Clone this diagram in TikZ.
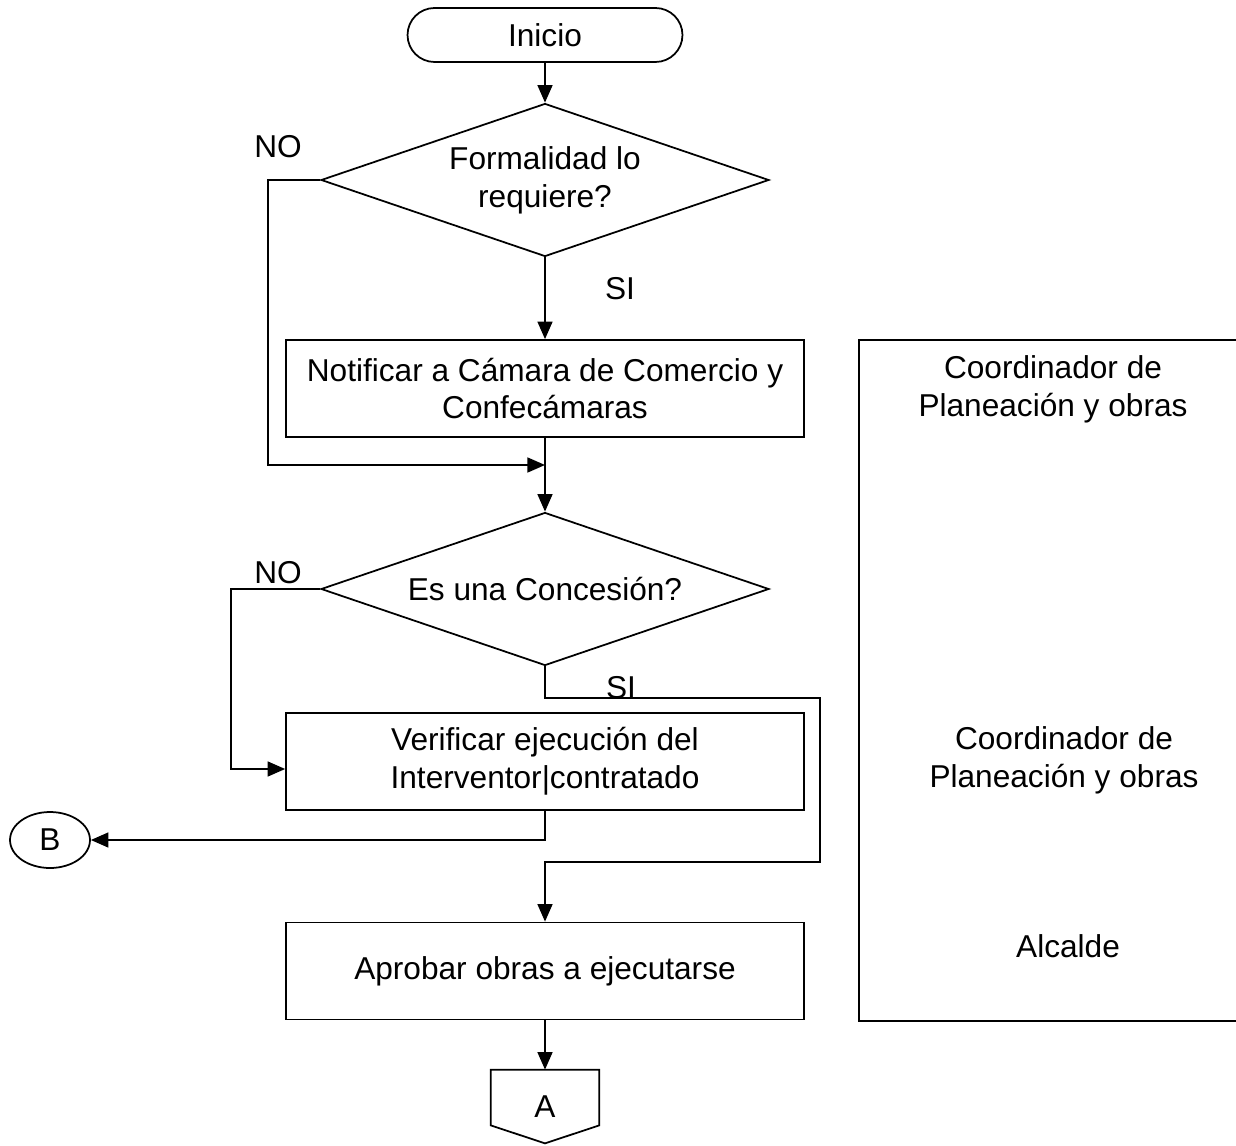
\documentclass[tikz,border=0pt]{standalone}
\usepackage{fontspec}
\setmainfont{Liberation Sans}
\usetikzlibrary{shapes.geometric,arrows.meta}

\begin{document}
\begin{tikzpicture}[
      x=0.02cm, y=-0.02cm, % coordenadas en pixeles de la figura original
      every node/.style={font=\fontsize{18}{21.5}\selectfont},
      terminal/.style={
          draw, line width=1pt, rounded corners=0.54cm,
          minimum width=5.5cm, minimum height=1.08cm
      },
      decision/.style={
          draw, line width=1pt, diamond, aspect=2.93, inner sep=1pt,
          minimum width=8.96cm, minimum height=3.06cm, align=center
      },
      proceso/.style={
          draw, line width=1pt, fill=white,
          minimum width=10.36cm, minimum height=1.94cm, align=center
      },
      conector/.style={
          draw, line width=1pt, ellipse, inner sep=0pt,
          minimum width=1.6cm, minimum height=1.12cm
      },
      line/.style={
          draw, line width=1pt, -{Triangle[length=10pt,width=8.5pt]}
      },
      plain/.style={draw, line width=1pt}
  ]
      \useasboundingbox (0,0) rectangle (1236,1145);

      % Flujo principal
      \node[terminal] (inicio) at (545,35) {Inicio};
      \node[decision] (d1) at (545,180) {Formalidad lo\\requiere?};
      \node[proceso] (b1) at (545,388.5) {Notificar a C\'amara de Comercio y\\Confec\'amaras};
      \node[decision] (d2) at (545,589) {Es una Concesi\'on?};
      \node[proceso] (b2) at (545,761.5) {Verificar ejecuci\'on del\\Interventor|contratado};
      \node[proceso] (b3) at (545,971) {Aprobar obras a ejecutarse};
      \node[conector] (B) at (50,840) {B};
      \node[minimum width=2.16cm, minimum height=1.46cm, inner sep=0pt] (A) at (545,1106.5) {A};
      \draw[plain] (A.north west) -- (A.north east) -- ([yshift=0.36cm]A.south east)
          -- (A.south) -- ([yshift=0.36cm]A.south west) -- cycle;

      % Etiquetas
      \node (no1) at (278,147) {NO};
      \node (si1) at (620,289) {SI};
      \node (no2) at (278,573) {NO};
      \node (si2) at (621,688) {SI};

      % Responsables
      \node[plain, minimum width=7.72cm, minimum height=13.62cm, inner sep=0pt] (resp) at (1052,680.5) {};
      \node[align=center] (r1) at (1053,389) {Coordinador de\\Planeaci\'on y obras};
      \node[align=center] (r2) at (1064,760.5) {Coordinador de\\Planeaci\'on y obras};
      \node (r3) at (1068,946) {Alcalde};

      % Puntos de paso
      \coordinate (c1) at (268,465);
      \coordinate (m1) at (545,465);
      \coordinate (c2) at (231,769);
      \coordinate (s1) at (545,698);
      \coordinate (s2) at (820,862);

      % Conectores
      \draw[line] (inicio) -- (d1);
      \draw[line] (d1) -- (b1);
      \draw[line] (d1.west) -| (c1) -- (m1);
      \draw[line] (b1) -- (d2);
      \draw[line] (d2.west) -| (c2) -- (c2 -| b2.west);
      \draw[line] (d2.south) -- (s1) -| (s2) -| (b3.north);
      \draw[line] (b2.south) |- (B.east);
      \draw[line] (b3) -- (A);
  \end{tikzpicture}
\end{document}
